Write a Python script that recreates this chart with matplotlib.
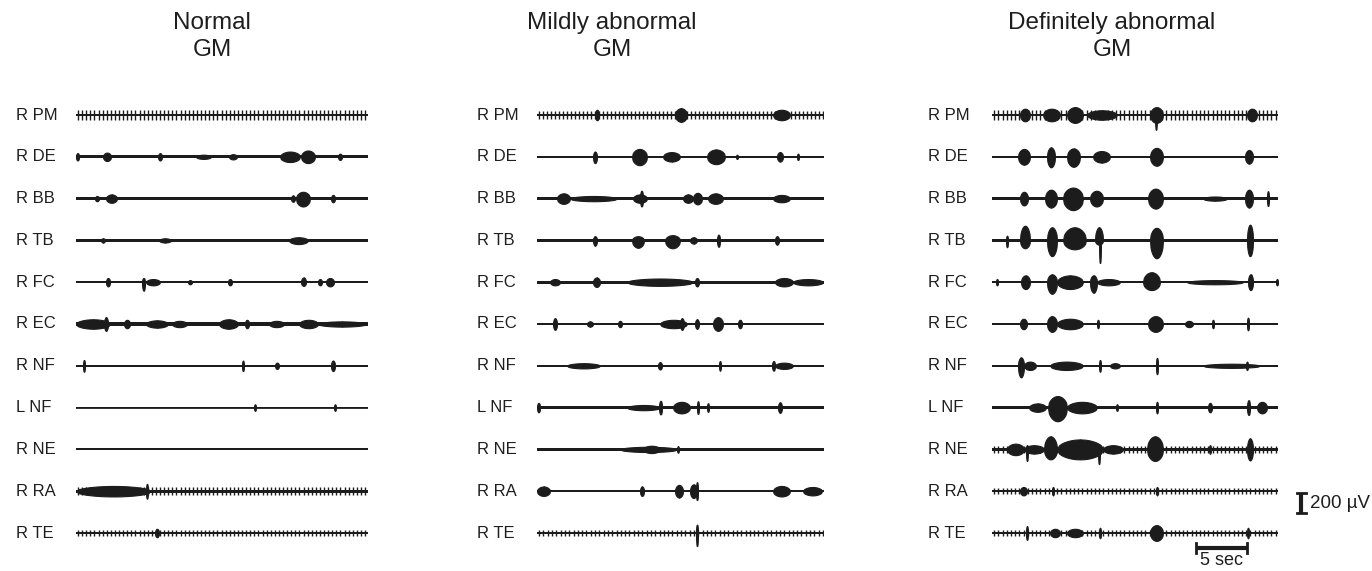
import matplotlib
matplotlib.use("Agg")
import matplotlib.pyplot as plt
import numpy as np

plt.rcParams['font.family'] = ['Liberation Sans', 'DejaVu Sans']

W, H = 1372, 571
UPX = 200 / 21.0          # microvolt per pixel (200 uV bar is 21 px high)
ROW0 = 115                # pixel row of the first trace
ROWSTEP = 41.8            # pixel spacing of the traces

muscles = ["R PM", "R DE", "R BB", "R TB", "R FC", "R EC",
           "R NF", "L NF", "R NE", "R RA", "R TE"]

titles = [("Normal", "GM"), ("Mildly abnormal", "GM"), ("Definitely abnormal", "GM")]

# trace pixel extents per column and title centers
col_x0 = [76, 537, 992]
col_x1 = [368, 824, 1278]
title_cx = [212, 612, 1112]
label_px = [16, 477, 928]

# baseline noise half-amplitude (uV) per trace
normal_base = [12, 15, 12, 12, 12, 15, 10, 8, 9, 15, 10]
mild_base = [12, 10, 12, 12, 15, 12, 10, 12, 12, 10, 10]
defin_base = [12, 12, 12, 15, 12, 12, 10, 15, 12, 12, 12]

# heartbeat artifact (period s, half-amplitude uV), None if absent
normal_ecg = [(0.41, 50), None, None, None, None, None, None, None, None, (0.41, 40), (0.41, 30)]
mild_ecg = [(0.40, 40), None, None, None, None, None, None, None, None, None, (0.43, 30)]
defin_ecg = [(0.42, 50), None, None, None, None, None, None, None, (0.42, 30), (0.42, 30), (0.42, 30)]

# bursts: (t start s, t end s, up uV, down uV)
normal_bursts = [
    [],
    [(0.0, 0.3, 35, 35), (2.7, 3.5, 40, 40), (8.2, 8.6, 35, 35), (12.0, 13.5, 20, 20),
     (15.3, 16.1, 25, 25), (20.4, 22.4, 50, 50), (22.5, 23.9, 60, 60), (26.2, 26.6, 30, 30)],
    [(1.9, 2.3, 25, 25), (3.0, 4.1, 40, 40), (21.5, 21.9, 30, 30), (22.0, 23.4, 65, 75),
     (25.5, 25.9, 35, 35)],
    [(2.5, 2.9, 20, 20), (8.3, 9.5, 20, 20), (21.3, 23.2, 30, 35)],
    [(3.0, 3.4, 40, 40), (6.6, 6.9, 40, 80), (7.0, 8.4, 30, 30), (11.2, 11.6, 20, 20),
     (15.2, 15.6, 30, 30), (22.5, 23.0, 45, 35), (24.2, 24.6, 30, 30), (25.0, 25.8, 40, 40)],
    [(0.0, 3.4, 45, 45), (2.8, 3.2, 65, 65), (4.8, 5.4, 40, 40), (7.0, 9.2, 35, 35),
     (9.6, 11.1, 30, 30), (14.3, 16.2, 45, 45), (16.9, 17.3, 40, 40), (19.3, 20.8, 30, 30),
     (22.3, 24.2, 40, 40), (24.2, 29.0, 25, 25)],
    [(0.7, 0.9, 55, 55), (16.6, 16.8, 50, 50), (19.9, 20.3, 30, 30), (25.5, 25.9, 50, 50)],
    [(17.8, 18.0, 30, 30), (25.8, 26.0, 30, 30)],
    [],
    [(0.0, 7.5, 50, 50), (7.0, 7.2, 70, 70)],
    [(7.9, 8.3, 40, 40)],
]

mild_bursts = [
    [(13.8, 15.0, 65, 65), (5.8, 6.2, 50, 50), (23.6, 25.3, 50, 50)],
    [(5.6, 6.0, 50, 60), (9.5, 11.0, 75, 80), (12.6, 14.3, 45, 45), (17.0, 18.8, 70, 70),
     (19.9, 20.1, 20, 20), (24.0, 24.6, 45, 45), (26.0, 26.2, 30, 30)],
    [(2.0, 3.3, 50, 50), (3.3, 8.0, 25, 25), (9.6, 11.0, 40, 40), (10.3, 10.6, 75, 75),
     (14.6, 15.6, 40, 40), (15.6, 16.5, 55, 55), (17.1, 18.6, 50, 50), (23.6, 25.3, 35, 35)],
    [(5.6, 6.0, 40, 50), (9.5, 10.7, 40, 70), (12.8, 14.3, 50, 75), (15.3, 16.0, 30, 30),
     (18.0, 18.3, 55, 60), (23.8, 24.2, 40, 40)],
    [(1.3, 2.3, 30, 30), (5.6, 6.3, 45, 45), (9.0, 15.6, 35, 35), (15.8, 16.2, 40, 40),
     (23.8, 25.6, 40, 40), (25.6, 28.6, 30, 30)],
    [(1.6, 2.0, 55, 55), (5.0, 5.6, 25, 25), (8.1, 8.5, 30, 30), (12.3, 15.0, 40, 40),
     (14.3, 14.7, 55, 55), (15.8, 16.2, 45, 45), (17.6, 18.6, 65, 65), (20.1, 20.5, 40, 40)],
    [(3.0, 6.3, 25, 25), (12.1, 12.5, 35, 35), (18.2, 18.4, 45, 45), (23.5, 23.8, 45, 45),
     (23.8, 25.6, 30, 30)],
    [(0.0, 0.3, 45, 45), (9.0, 12.3, 25, 25), (12.2, 12.5, 65, 65), (13.6, 15.3, 55, 55),
     (16.0, 16.2, 60, 60), (17.0, 17.2, 40, 40), (24.1, 24.5, 50, 50)],
    [(8.3, 14.0, 25, 25), (10.6, 12.3, 35, 35), (14.0, 14.2, 30, 30)],
    [(0.0, 1.3, 45, 45), (10.3, 10.7, 45, 45), (13.8, 14.6, 60, 60), (15.3, 16.0, 65, 65),
     (15.9, 16.1, 85, 85), (23.6, 25.3, 50, 50), (26.6, 28.5, 40, 40)],
    [(15.9, 16.1, 80, 125)],
]

defin_bursts = [
    [(2.8, 3.8, 60, 60), (5.1, 6.8, 60, 60), (7.5, 9.1, 75, 75), (9.5, 12.5, 45, 45),
     (15.8, 17.1, 75, 75), (16.3, 16.5, 40, 140), (25.5, 26.5, 60, 60)],
    [(2.6, 3.8, 75, 75), (5.5, 6.3, 90, 100), (7.5, 8.8, 80, 95), (10.1, 11.8, 55, 55),
     (15.8, 17.1, 85, 85), (25.3, 26.1, 65, 65)],
    [(2.8, 3.6, 65, 65), (5.3, 6.5, 85, 85), (7.1, 9.1, 105, 110), (9.8, 11.1, 75, 75),
     (15.6, 17.1, 95, 95), (21.1, 23.5, 20, 20), (25.3, 26.1, 85, 85), (27.5, 27.7, 70, 70)],
    [(1.4, 1.6, 45, 65), (2.8, 3.8, 140, 75), (5.5, 6.5, 125, 150), (7.1, 9.4, 125, 85),
     (10.3, 11.1, 125, 40), (10.7, 10.9, 20, 215), (15.8, 17.1, 120, 170), (25.5, 26.1, 150, 150)],
    [(0.4, 0.6, 30, 30), (2.9, 3.8, 65, 65), (5.5, 6.5, 75, 110), (6.5, 9.1, 65, 65),
     (9.8, 10.5, 65, 100), (10.5, 12.8, 30, 30), (15.1, 16.8, 95, 75), (19.5, 25.1, 20, 20),
     (25.6, 26.1, 75, 75), (28.4, 28.6, 30, 30)],
    [(2.8, 3.5, 50, 50), (5.5, 6.5, 75, 75), (6.5, 9.1, 50, 50), (10.5, 10.7, 40, 40),
     (15.6, 17.1, 75, 75), (19.3, 20.1, 30, 30), (22.0, 22.2, 40, 40), (25.5, 25.7, 60, 60)],
    [(2.6, 3.2, 80, 110), (3.2, 4.4, 40, 40), (5.8, 9.1, 40, 40), (10.7, 10.9, 55, 55),
     (11.8, 12.8, 25, 25), (16.4, 16.6, 75, 80), (21.1, 26.8, 20, 20), (25.4, 25.6, 40, 40)],
    [(3.7, 5.4, 40, 40), (5.6, 7.5, 110, 130), (7.5, 10.5, 55, 55), (12.4, 12.6, 30, 30),
     (16.4, 16.6, 55, 55), (21.6, 22.0, 45, 45), (25.5, 25.8, 70, 70), (26.5, 27.5, 55, 55)],
    [(1.5, 3.2, 55, 55), (3.4, 3.6, 40, 110), (3.2, 5.2, 40, 40), (5.2, 6.5, 125, 95),
     (6.5, 11.1, 95, 95), (10.6, 10.8, 40, 140), (11.1, 13.1, 40, 40), (15.5, 17.1, 125, 110),
     (21.7, 21.9, 40, 40), (25.5, 26.1, 105, 105)],
    [(2.8, 3.5, 40, 40), (6.0, 6.2, 40, 40), (16.4, 16.6, 40, 40)],
    [(3.4, 3.6, 65, 65), (5.8, 6.8, 40, 40), (7.5, 9.1, 40, 40), (10.7, 10.9, 50, 50),
     (15.8, 17.1, 75, 75), (25.5, 25.7, 50, 50)],
]

columns = [
    (normal_base, normal_ecg, normal_bursts),
    (mild_base, mild_ecg, mild_bursts),
    (defin_base, defin_ecg, defin_bursts),
]

INK = "#1c1c1c"
TXT = "#1e1e1e"


def py(px):
    # pixel row -> microvolt coordinate
    return (ROW0 - px) * UPX


fig = plt.figure(figsize=(W / 100, H / 100), dpi=100)
fig.patch.set_facecolor("white")

# rounded envelope used to draw a burst between its start and end
u = np.linspace(0, 1, 25)
shape = np.sin(np.pi * u) ** 0.45

axes = []
for c, (base, ecg, bursts) in enumerate(columns):
    x0, x1 = col_x0[c], col_x1[c]
    T = (x1 - x0) / 10.0
    ax = fig.add_axes([x0 / W, 0, (x1 - x0) / W, 1])
    ax.set_xlim(0, T)
    ax.set_ylim(py(H), py(0))
    ax.axis("off")
    axes.append(ax)

    for i, name in enumerate(muscles):
        y = py(ROW0 + i * ROWSTEP)
        ax.fill_between([0, T], y - base[i], y + base[i], color=INK, lw=0)
        ax.plot([0, T], [y, y], color=INK, lw=1.3)
        if ecg[i] is not None:
            per, amp = ecg[i]
            ts = np.arange(per / 2, T, per)
            ax.vlines(ts, y - amp, y + amp, color=INK, lw=1.0)
        for (t0, t1, up, dn) in bursts[i]:
            t1 = min(t1, T)
            tt = t0 + (t1 - t0) * u
            ax.fill_between(tt, y - dn * shape, y + up * shape, color=INK, lw=0.8, ec=INK)
            # a spike through the middle of every burst
            tm = (t0 + t1) / 2
            ax.vlines([tm], y - dn, y + up, color=INK, lw=1.0)
        ax.text((label_px[c] - x0) / 10.0, y, name, ha="left", va="center",
                fontsize=12, color=TXT, clip_on=False)

    tx = (title_cx[c] - x0) / 10.0
    ax.text(tx, py(23), titles[c][0], ha="center", va="center", fontsize=17.5,
            color=TXT, clip_on=False)
    ax.text(tx, py(50), titles[c][1], ha="center", va="center", fontsize=17.5,
            color=TXT, clip_on=False)

# scale bars on the last column
ax = axes[2]
x0 = col_x0[2]
vt = (1301 - x0) / 10.0
ax.plot([vt, vt], [py(493), py(513)], color=INK, lw=3, clip_on=False, solid_capstyle="butt")
ax.plot([vt - 0.45, vt + 0.45], [py(493), py(493)], color=INK, lw=2, clip_on=False)
ax.plot([vt - 0.45, vt + 0.45], [py(513), py(513)], color=INK, lw=2, clip_on=False)
ax.text((1310 - x0) / 10.0, py(504), "200 µV", ha="left", va="center",
        fontsize=13.5, color=TXT, clip_on=False)

hs0, hs1 = (1196 - x0) / 10.0, (1247 - x0) / 10.0
ax.plot([hs0, hs1], [py(548), py(548)], color=INK, lw=3, clip_on=False, solid_capstyle="butt")
ax.plot([hs0, hs0], [py(543), py(553)], color=INK, lw=2, clip_on=False)
ax.plot([hs1, hs1], [py(543), py(553)], color=INK, lw=2, clip_on=False)
ax.text((hs0 + hs1) / 2, py(552), "5 sec", ha="center", va="top",
        fontsize=13, color=TXT, clip_on=False)

fig.savefig("out.png", dpi=100, facecolor="white")
